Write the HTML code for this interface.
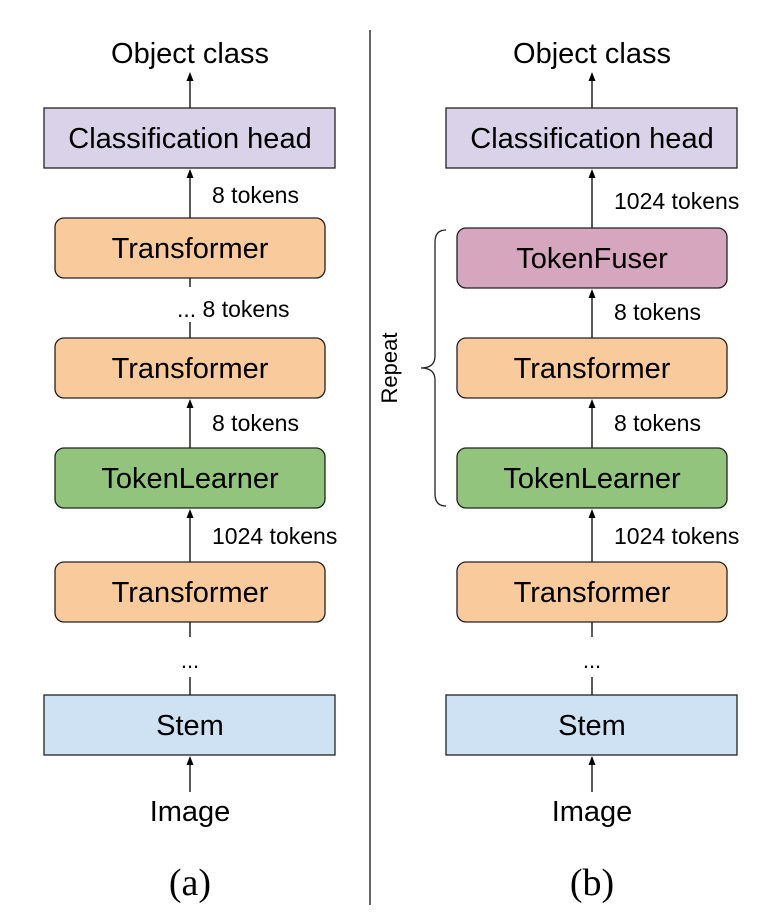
<!DOCTYPE html>
<html><head><meta charset="utf-8"><style>
html,body{margin:0;padding:0;background:#fff}
svg{display:block}
text{font-family:"Liberation Sans",sans-serif;fill:#000}
</style></head><body>
<svg width="780" height="920" viewBox="0 0 780 920" xmlns="http://www.w3.org/2000/svg">
<line x1="370" y1="30" x2="370" y2="905" stroke="#000" stroke-width="1.2"/>

<g stroke="#222" stroke-width="1.5">
<line x1="190" y1="108" x2="190" y2="80"/>
<line x1="190" y1="218" x2="190" y2="173"/>
<line x1="190" y1="278" x2="190" y2="287"/>
<line x1="190" y1="338" x2="190" y2="322"/>
<line x1="190" y1="448" x2="190" y2="403"/>
<line x1="190" y1="562" x2="190" y2="513"/>
<line x1="190" y1="622" x2="190" y2="637"/>
<line x1="190" y1="677" x2="190" y2="695"/>
<line x1="190" y1="792" x2="190" y2="760"/>
<line x1="592" y1="108" x2="592" y2="80"/>
<line x1="592" y1="228" x2="592" y2="173"/>
<line x1="592" y1="338" x2="592" y2="293"/>
<line x1="592" y1="448" x2="592" y2="403"/>
<line x1="592" y1="562" x2="592" y2="513"/>
<line x1="592" y1="622" x2="592" y2="637"/>
<line x1="592" y1="677" x2="592" y2="695"/>
<line x1="592" y1="792" x2="592" y2="760"/>
</g>
<g fill="#000">
<path d="M186.5,81 L190,72 L193.5,81Z"/>
<path d="M186.5,178 L190,169 L193.5,178Z"/>
<path d="M186.5,408 L190,399 L193.5,408Z"/>
<path d="M186.5,518 L190,509 L193.5,518Z"/>
<path d="M186.5,765 L190,756 L193.5,765Z"/>
<path d="M588.5,81 L592,72 L595.5,81Z"/>
<path d="M588.5,178 L592,169 L595.5,178Z"/>
<path d="M588.5,298 L592,289 L595.5,298Z"/>
<path d="M588.5,408 L592,399 L595.5,408Z"/>
<path d="M588.5,518 L592,509 L595.5,518Z"/>
<path d="M588.5,765 L592,756 L595.5,765Z"/>
</g>

<g>
<text x="190" y="63" font-size="29" text-anchor="middle">Object class</text>
<rect x="44" y="108" width="291" height="60" fill="#d9d2e9" stroke="#222" stroke-width="1.3"/>
<text x="190" y="148" font-size="29" text-anchor="middle">Classification head</text>
<text x="212" y="203" font-size="23">8 tokens</text>
<rect x="55" y="218" width="270" height="60" rx="9" fill="#f9cb9c" stroke="#222" stroke-width="1.3"/>
<text x="190" y="258" font-size="29" text-anchor="middle">Transformer</text>
<text x="177" y="317" font-size="23">... 8 tokens</text>
<rect x="55" y="338" width="270" height="60" rx="9" fill="#f9cb9c" stroke="#222" stroke-width="1.3"/>
<text x="190" y="378" font-size="29" text-anchor="middle">Transformer</text>
<text x="212" y="431" font-size="23">8 tokens</text>
<rect x="55" y="448" width="270" height="60" rx="9" fill="#93c47d" stroke="#222" stroke-width="1.3"/>
<text x="190" y="488" font-size="29" text-anchor="middle">TokenLearner</text>
<text x="212" y="544" font-size="23">1024 tokens</text>
<rect x="55" y="562" width="270" height="60" rx="9" fill="#f9cb9c" stroke="#222" stroke-width="1.3"/>
<text x="190" y="602" font-size="29" text-anchor="middle">Transformer</text>
<text x="190" y="668" font-size="22" text-anchor="middle">...</text>
<rect x="44" y="695" width="291" height="60" fill="#cfe2f3" stroke="#222" stroke-width="1.3"/>
<text x="190" y="735" font-size="29" text-anchor="middle">Stem</text>
<text x="190" y="821" font-size="29" text-anchor="middle">Image</text>
<text x="190" y="895" font-size="38" text-anchor="middle" style="font-family:'Liberation Serif',serif">(a)</text>
</g>

<g>
<text x="592" y="63" font-size="29" text-anchor="middle">Object class</text>
<rect x="446" y="108" width="291" height="60" fill="#d9d2e9" stroke="#222" stroke-width="1.3"/>
<text x="592" y="148" font-size="29" text-anchor="middle">Classification head</text>
<text x="614" y="209" font-size="23">1024 tokens</text>
<rect x="457" y="228" width="270" height="60" rx="9" fill="#d5a6bd" stroke="#222" stroke-width="1.3"/>
<text x="592" y="268" font-size="29" text-anchor="middle">TokenFuser</text>
<text x="614" y="320" font-size="23">8 tokens</text>
<rect x="457" y="338" width="270" height="60" rx="9" fill="#f9cb9c" stroke="#222" stroke-width="1.3"/>
<text x="592" y="378" font-size="29" text-anchor="middle">Transformer</text>
<text x="614" y="431" font-size="23">8 tokens</text>
<rect x="457" y="448" width="270" height="60" rx="9" fill="#93c47d" stroke="#222" stroke-width="1.3"/>
<text x="592" y="488" font-size="29" text-anchor="middle">TokenLearner</text>
<text x="614" y="544" font-size="23">1024 tokens</text>
<rect x="457" y="562" width="270" height="60" rx="9" fill="#f9cb9c" stroke="#222" stroke-width="1.3"/>
<text x="592" y="602" font-size="29" text-anchor="middle">Transformer</text>
<text x="592" y="668" font-size="22" text-anchor="middle">...</text>
<rect x="446" y="695" width="291" height="60" fill="#cfe2f3" stroke="#222" stroke-width="1.3"/>
<text x="592" y="735" font-size="29" text-anchor="middle">Stem</text>
<text x="592" y="821" font-size="29" text-anchor="middle">Image</text>
<text x="592" y="895" font-size="38" text-anchor="middle" style="font-family:'Liberation Serif',serif">(b)</text>
</g>

<path d="M446,230 Q435,230 435,242 L435,356 Q435,368 421,368 Q435,368 435,380 L435,494 Q435,506 446,506" fill="none" stroke="#222" stroke-width="1.3"/>
<text x="0" y="0" font-size="22" text-anchor="middle" transform="translate(397,368) rotate(-90)">Repeat</text>
</svg>
</body></html>
